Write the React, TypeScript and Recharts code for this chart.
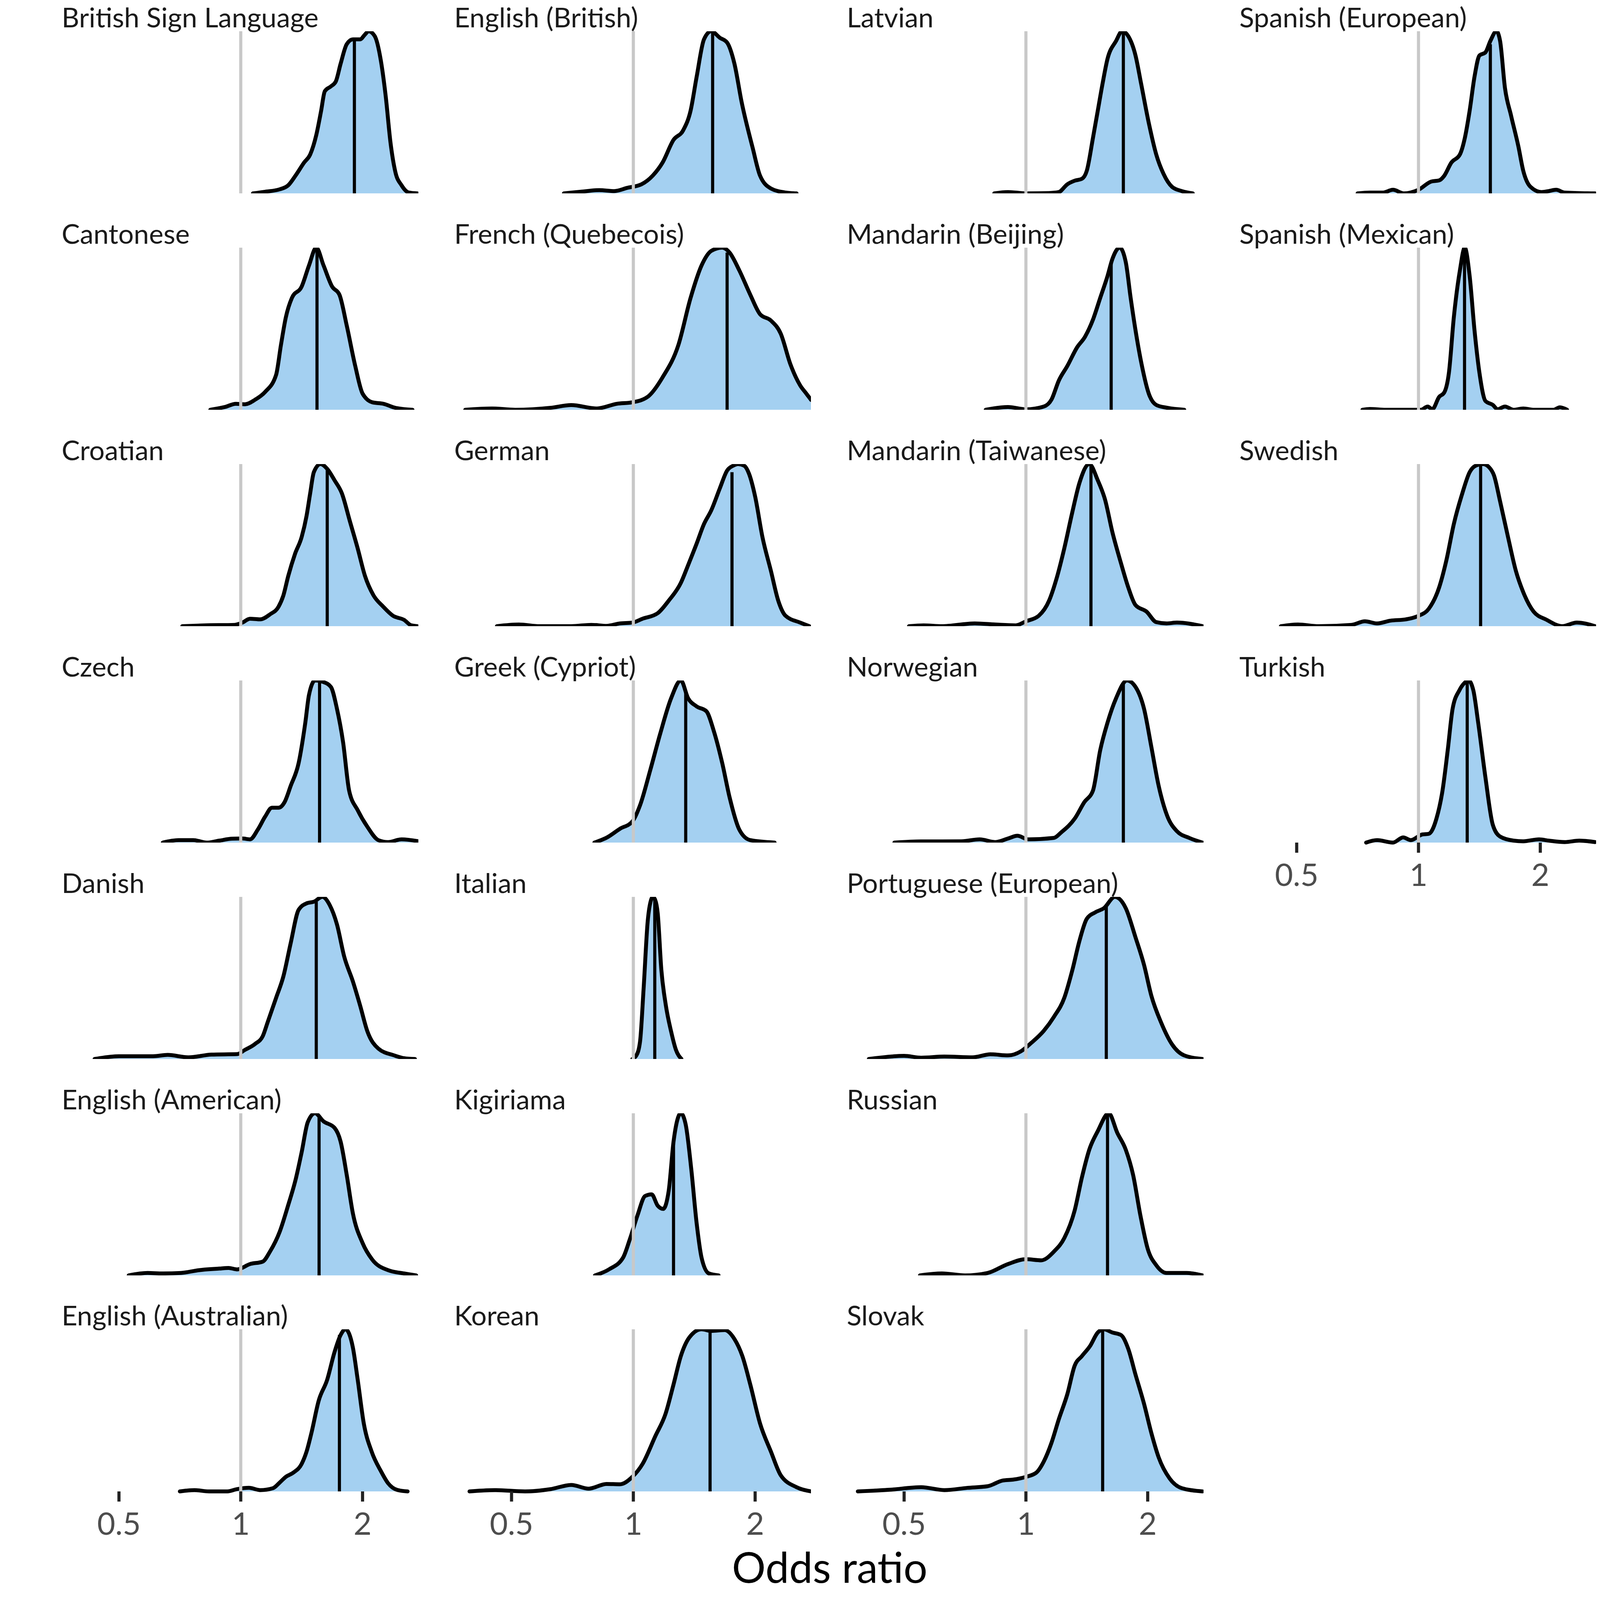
import React from "react";
import { ComposedChart, Area, XAxis, YAxis, ReferenceLine } from "recharts";

// ---- tick labels (odds ratio) and x positions in log2 units ----
const oddsTicks = [0.5, 1, 2];
const tickPositions = oddsTicks.map((v) => Math.log2(v));

// ---- panel order (facets, filled column by column) ----
const column0 = ["British Sign Language", "Cantonese", "Croatian", "Czech", "Danish", "English (American)", "English (Australian)"];
const column1 = ["English (British)", "French (Quebecois)", "German", "Greek (Cypriot)", "Italian", "Kigiriama", "Korean"];
const column2 = ["Latvian", "Mandarin (Beijing)", "Mandarin (Taiwanese)", "Norwegian", "Portuguese (European)", "Russian", "Slovak"];
const column3 = ["Spanish (European)", "Spanish (Mexican)", "Swedish", "Turkish"];

// ---- posterior densities: [log2 odds ratio, relative density] ----
const densBSL = [[0.10,0],[0.20,0.01],[0.32,0.025],[0.39,0.05],[0.45,0.11],[0.52,0.19],[0.57,0.24],[0.62,0.36],[0.66,0.51],[0.69,0.63],[0.74,0.66],[0.78,0.69],[0.82,0.80],[0.87,0.92],[0.92,0.95],[0.98,0.95],[1.02,0.98],[1.05,1.0],[1.10,0.97],[1.15,0.82],[1.19,0.60],[1.23,0.31],[1.27,0.13],[1.32,0.05],[1.38,0.005],[1.45,0]];
const densEnglishBritish = [[-0.57,0],[-0.43,0.01],[-0.28,0.02],[-0.155,0.014],[-0.05,0.034],[0.067,0.056],[0.16,0.11],[0.24,0.19],[0.33,0.33],[0.41,0.39],[0.47,0.51],[0.52,0.72],[0.58,0.95],[0.64,1.0],[0.71,0.96],[0.77,0.93],[0.83,0.80],[0.89,0.56],[0.98,0.28],[1.04,0.11],[1.13,0.03],[1.25,0.005],[1.34,0]];
const densCantonese = [[-0.25,0],[-0.13,0.017],[-0.04,0.037],[0.034,0.034],[0.12,0.063],[0.20,0.11],[0.29,0.215],[0.33,0.40],[0.37,0.57],[0.42,0.69],[0.50,0.76],[0.56,0.89],[0.62,1.0],[0.68,0.89],[0.75,0.76],[0.81,0.71],[0.87,0.52],[0.94,0.27],[1.0,0.10],[1.08,0.046],[1.17,0.037],[1.27,0.012],[1.41,0]];
const densFrench = [[-1.38,0],[-1.16,0.008],[-0.97,0],[-0.68,0.012],[-0.51,0.029],[-0.30,0.008],[-0.134,0.037],[-0.008,0.046],[0.118,0.08],[0.24,0.20],[0.37,0.40],[0.47,0.69],[0.56,0.89],[0.64,0.98],[0.73,1.0],[0.79,0.97],[0.87,0.86],[0.96,0.71],[1.04,0.59],[1.13,0.55],[1.21,0.47],[1.29,0.28],[1.37,0.15],[1.42,0.10],[1.46,0.06]];
const densLatvian = [[-0.26,0],[-0.147,0.008],[0,0],[0.19,0.002],[0.27,0.008],[0.34,0.056],[0.40,0.078],[0.46,0.09],[0.50,0.14],[0.55,0.34],[0.59,0.51],[0.63,0.68],[0.67,0.83],[0.74,0.94],[0.79,1.0],[0.84,0.97],[0.90,0.85],[0.945,0.68],[1.01,0.43],[1.07,0.24],[1.13,0.12],[1.20,0.04],[1.28,0.014],[1.37,0]];
const densSpanishEuropean = [[-0.50,0],[-0.40,0.005],[-0.29,0.005],[-0.21,0.022],[-0.12,0],[0,0.022],[0.105,0.073],[0.17,0.08],[0.21,0.107],[0.27,0.19],[0.34,0.24],[0.38,0.34],[0.42,0.51],[0.46,0.72],[0.50,0.85],[0.55,0.87],[0.59,0.94],[0.64,1.0],[0.67,0.94],[0.71,0.65],[0.76,0.48],[0.82,0.29],[0.86,0.14],[0.92,0.04],[1.01,0.008],[1.07,0.014],[1.13,0.022],[1.20,0.005],[1.45,0]];
const densMandarinBeijing = [[-0.33,0],[-0.147,0.017],[0,0.003],[0.147,0.02],[0.21,0.063],[0.27,0.18],[0.34,0.27],[0.42,0.385],[0.485,0.45],[0.55,0.555],[0.61,0.69],[0.67,0.825],[0.71,0.93],[0.77,1.0],[0.82,0.91],[0.86,0.69],[0.90,0.49],[0.95,0.28],[1.01,0.097],[1.07,0.03],[1.16,0.012],[1.30,0]];
const densSpanishMexican = [[-0.46,0],[-0.40,0.005],[-0.27,0],[0.02,0],[0.076,0.02],[0.113,0.003],[0.17,0.08],[0.21,0.105],[0.25,0.23],[0.29,0.57],[0.34,0.86],[0.38,1.0],[0.42,0.825],[0.46,0.49],[0.50,0.23],[0.55,0.054],[0.61,0.03],[0.65,0.003],[0.71,0.02],[0.78,0],[0.86,0.008],[0.95,0],[1.11,0],[1.16,0.015],[1.22,0]];
const densCroatian = [[-0.48,0],[-0.30,0.005],[-0.05,0.008],[0.013,0.022],[0.076,0.046],[0.16,0.042],[0.24,0.073],[0.31,0.12],[0.35,0.19],[0.39,0.31],[0.445,0.445],[0.50,0.55],[0.54,0.68],[0.57,0.82],[0.60,0.95],[0.655,1.0],[0.71,0.97],[0.77,0.90],[0.83,0.82],[0.895,0.65],[0.96,0.48],[1.02,0.31],[1.09,0.19],[1.17,0.12],[1.25,0.064],[1.34,0.039],[1.40,0.005],[1.45,0]];
const densGerman = [[-1.12,0],[-0.94,0.01],[-0.77,0],[-0.51,0],[-0.345,0.008],[-0.22,0.002],[-0.11,0.017],[-0.008,0.022],[0.076,0.046],[0.20,0.08],[0.29,0.157],[0.39,0.267],[0.45,0.377],[0.52,0.51],[0.58,0.63],[0.64,0.715],[0.71,0.85],[0.77,0.96],[0.82,0.99],[0.86,1.0],[0.91,0.99],[0.95,0.94],[1.0,0.80],[1.06,0.55],[1.13,0.34],[1.19,0.157],[1.25,0.064],[1.37,0.022],[1.445,0]];
const densCzech = [[-0.64,0],[-0.51,0.015],[-0.39,0.015],[-0.28,0],[-0.176,0.012],[-0.07,0.024],[0.013,0.025],[0.076,0.02],[0.14,0.08],[0.20,0.16],[0.256,0.215],[0.31,0.215],[0.36,0.25],[0.41,0.35],[0.475,0.49],[0.53,0.74],[0.56,0.91],[0.61,1.0],[0.68,0.99],[0.74,0.96],[0.79,0.825],[0.84,0.62],[0.89,0.32],[0.96,0.20],[1.04,0.097],[1.13,0.015],[1.21,0.003],[1.32,0.02],[1.46,0.008]];
const densGreek = [[-0.32,0],[-0.22,0.03],[-0.11,0.085],[-0.008,0.13],[0.055,0.23],[0.14,0.45],[0.22,0.67],[0.31,0.89],[0.39,1.0],[0.45,0.89],[0.52,0.84],[0.60,0.81],[0.66,0.69],[0.73,0.49],[0.79,0.28],[0.87,0.08],[0.96,0.015],[1.16,0]];
const densMandarinTaiwanese = [[-0.96,0],[-0.84,0.005],[-0.69,0],[-0.42,0.017],[-0.25,0.01],[-0.084,0.005],[0,0.03],[0.105,0.064],[0.19,0.157],[0.25,0.29],[0.315,0.48],[0.38,0.70],[0.44,0.885],[0.52,1.0],[0.59,0.90],[0.65,0.78],[0.71,0.58],[0.78,0.39],[0.84,0.24],[0.90,0.13],[0.99,0.09],[1.07,0.025],[1.155,0.017],[1.24,0.022],[1.45,0]];
const densSwedish = [[-1.13,0],[-0.99,0.01],[-0.82,0],[-0.55,0.008],[-0.44,0.03],[-0.34,0.017],[-0.23,0.034],[-0.105,0.042],[0,0.064],[0.084,0.107],[0.17,0.24],[0.23,0.41],[0.29,0.63],[0.36,0.82],[0.42,0.95],[0.47,0.99],[0.53,1.0],[0.58,0.98],[0.62,0.93],[0.67,0.77],[0.735,0.55],[0.80,0.34],[0.86,0.21],[0.945,0.09],[1.05,0.04],[1.18,0],[1.30,0.022],[1.45,0]];
const densNorwegian = [[-1.08,0],[-0.86,0.007],[-0.53,0.008],[-0.38,0.02],[-0.25,0.003],[-0.147,0.025],[-0.07,0.042],[0.02,0.02],[0.23,0.029],[0.29,0.063],[0.40,0.147],[0.48,0.25],[0.55,0.32],[0.61,0.57],[0.67,0.74],[0.74,0.89],[0.83,1.0],[0.90,0.96],[0.97,0.825],[1.03,0.59],[1.09,0.35],[1.16,0.165],[1.24,0.07],[1.34,0.029],[1.45,0]];
const densTurkish = [[-0.43,0],[-0.34,0.015],[-0.21,0],[-0.126,0.032],[-0.063,0.015],[0.03,0.05],[0.084,0.054],[0.147,0.147],[0.197,0.32],[0.24,0.57],[0.28,0.825],[0.336,0.94],[0.378,0.985],[0.41,1.0],[0.45,0.94],[0.49,0.74],[0.55,0.40],[0.61,0.11],[0.67,0.037],[0.78,0.012],[0.86,0.008],[0.99,0.02],[1.07,0.012],[1.20,0.003],[1.32,0.012],[1.45,0.003]];
const densDanish = [[-1.20,0],[-1.0,0.017],[-0.72,0.017],[-0.60,0.025],[-0.43,0.01],[-0.24,0.027],[-0.03,0.03],[0.034,0.056],[0.118,0.093],[0.18,0.14],[0.22,0.225],[0.29,0.377],[0.35,0.51],[0.41,0.715],[0.475,0.92],[0.54,0.96],[0.60,0.97],[0.67,1.0],[0.73,0.95],[0.79,0.83],[0.85,0.63],[0.92,0.48],[0.98,0.33],[1.04,0.17],[1.13,0.064],[1.26,0.022],[1.34,0.005],[1.43,0]];
const densItalian = [[-0.008,0],[0.025,0.022],[0.055,0.107],[0.084,0.43],[0.118,0.85],[0.145,0.98],[0.16,1.0],[0.18,0.98],[0.20,0.90],[0.23,0.55],[0.265,0.34],[0.31,0.17],[0.35,0.056],[0.395,0]];
const densEnglishAmerican = [[-0.92,0],[-0.765,0.015],[-0.64,0.012],[-0.49,0.015],[-0.345,0.032],[-0.176,0.042],[-0.10,0.046],[-0.03,0.037],[0.076,0.07],[0.18,0.085],[0.24,0.147],[0.32,0.27],[0.39,0.435],[0.45,0.59],[0.50,0.76],[0.55,0.945],[0.61,1.0],[0.68,0.95],[0.77,0.91],[0.82,0.825],[0.87,0.62],[0.92,0.385],[1.0,0.20],[1.08,0.097],[1.21,0.032],[1.34,0.012],[1.44,0]];
const densKigiriama = [[-0.315,0],[-0.20,0.037],[-0.084,0.11],[-0.03,0.22],[0.034,0.37],[0.097,0.49],[0.15,0.50],[0.20,0.43],[0.245,0.41],[0.29,0.52],[0.33,0.825],[0.39,1.0],[0.43,0.93],[0.475,0.66],[0.52,0.32],[0.56,0.11],[0.62,0.012],[0.70,0]];
const densPortuguese = [[-1.29,0],[-1.0,0.019],[-0.86,0.008],[-0.67,0.015],[-0.44,0.01],[-0.29,0.029],[-0.147,0.022],[-0.042,0.047],[0.042,0.098],[0.147,0.174],[0.23,0.26],[0.315,0.377],[0.38,0.545],[0.44,0.73],[0.50,0.865],[0.57,0.905],[0.64,0.93],[0.73,1.0],[0.82,0.93],[0.90,0.75],[0.97,0.58],[1.03,0.39],[1.11,0.225],[1.20,0.09],[1.30,0.022],[1.45,0]];
const densRussian = [[-0.87,0],[-0.69,0.012],[-0.50,0],[-0.315,0.015],[-0.147,0.07],[0,0.10],[0.126,0.093],[0.23,0.147],[0.315,0.23],[0.40,0.40],[0.46,0.605],[0.52,0.775],[0.59,0.89],[0.68,1.0],[0.75,0.88],[0.82,0.775],[0.88,0.62],[0.94,0.37],[1.0,0.164],[1.07,0.063],[1.155,0.015],[1.32,0.015],[1.45,0]];
const densEnglishAustralian = [[-0.50,0],[-0.38,0.008],[-0.26,0],[-0.11,0],[-0.03,0.014],[0.067,0.022],[0.16,0.008],[0.265,0.02],[0.32,0.055],[0.37,0.09],[0.43,0.115],[0.50,0.17],[0.54,0.245],[0.58,0.36],[0.64,0.56],[0.71,0.69],[0.77,0.86],[0.82,0.965],[0.86,1.0],[0.92,0.89],[0.96,0.69],[1.01,0.42],[1.075,0.245],[1.15,0.126],[1.21,0.05],[1.29,0.008],[1.37,0]];
const densKorean = [[-1.345,0],[-1.14,0.008],[-0.89,0],[-0.68,0.014],[-0.51,0.04],[-0.366,0.017],[-0.22,0.046],[-0.11,0.044],[-0.008,0.09],[0.076,0.17],[0.18,0.34],[0.265,0.48],[0.33,0.66],[0.39,0.835],[0.46,0.95],[0.56,1.0],[0.64,0.99],[0.75,0.995],[0.83,0.94],[0.895,0.835],[0.96,0.66],[1.04,0.42],[1.13,0.245],[1.21,0.10],[1.34,0.026],[1.46,0]];
const densSlovak = [[-1.38,0],[-1.12,0.01],[-0.86,0.026],[-0.67,0.008],[-0.48,0.022],[-0.315,0.032],[-0.19,0.067],[-0.105,0.073],[0,0.09],[0.084,0.115],[0.147,0.185],[0.21,0.30],[0.27,0.445],[0.34,0.60],[0.40,0.775],[0.46,0.835],[0.525,0.895],[0.59,0.98],[0.64,1.0],[0.71,0.98],[0.78,0.965],[0.84,0.88],[0.90,0.72],[0.97,0.54],[1.03,0.36],[1.09,0.21],[1.18,0.08],[1.28,0.02],[1.45,0]];

// ---- posterior medians: [log2 odds ratio, density at median] ----
const medianBSL = [0.933, 0.95];
const medianEnglishBritish = [0.651, 0.99];
const medianCantonese = [0.626, 0.99];
const medianFrench = [0.77, 0.97];
const medianLatvian = [0.80, 0.99];
const medianSpanishEuropean = [0.59, 0.92];
const medianMandarinBeijing = [0.70, 0.90];
const medianSpanishMexican = [0.378, 0.99];
const medianCroatian = [0.71, 0.97];
const medianGerman = [0.81, 0.95];
const medianCzech = [0.647, 0.99];
const medianGreek = [0.43, 0.93];
const medianMandarinTaiwanese = [0.534, 0.99];
const medianSwedish = [0.51, 0.99];
const medianNorwegian = [0.80, 0.98];
const medianTurkish = [0.40, 0.99];
const medianDanish = [0.62, 0.97];
const medianItalian = [0.176, 0.98];
const medianEnglishAmerican = [0.643, 0.98];
const medianKigiriama = [0.33, 0.82];
const medianPortuguese = [0.66, 0.94];
const medianRussian = [0.67, 0.99];
const medianEnglishAustralian = [0.81, 0.965];
const medianKorean = [0.63, 0.99];
const medianSlovak = [0.63, 0.99];

const densities: Record<string, number[][]> = {
  "British Sign Language": densBSL,
  "English (British)": densEnglishBritish,
  "Cantonese": densCantonese,
  "French (Quebecois)": densFrench,
  "Latvian": densLatvian,
  "Spanish (European)": densSpanishEuropean,
  "Mandarin (Beijing)": densMandarinBeijing,
  "Spanish (Mexican)": densSpanishMexican,
  "Croatian": densCroatian,
  "German": densGerman,
  "Czech": densCzech,
  "Greek (Cypriot)": densGreek,
  "Mandarin (Taiwanese)": densMandarinTaiwanese,
  "Swedish": densSwedish,
  "Norwegian": densNorwegian,
  "Turkish": densTurkish,
  "Danish": densDanish,
  "Italian": densItalian,
  "English (American)": densEnglishAmerican,
  "Kigiriama": densKigiriama,
  "Portuguese (European)": densPortuguese,
  "Russian": densRussian,
  "English (Australian)": densEnglishAustralian,
  "Korean": densKorean,
  "Slovak": densSlovak,
};

const medians: Record<string, number[]> = {
  "British Sign Language": medianBSL,
  "English (British)": medianEnglishBritish,
  "Cantonese": medianCantonese,
  "French (Quebecois)": medianFrench,
  "Latvian": medianLatvian,
  "Spanish (European)": medianSpanishEuropean,
  "Mandarin (Beijing)": medianMandarinBeijing,
  "Spanish (Mexican)": medianSpanishMexican,
  "Croatian": medianCroatian,
  "German": medianGerman,
  "Czech": medianCzech,
  "Greek (Cypriot)": medianGreek,
  "Mandarin (Taiwanese)": medianMandarinTaiwanese,
  "Swedish": medianSwedish,
  "Norwegian": medianNorwegian,
  "Turkish": medianTurkish,
  "Danish": medianDanish,
  "Italian": medianItalian,
  "English (American)": medianEnglishAmerican,
  "Kigiriama": medianKigiriama,
  "Portuguese (European)": medianPortuguese,
  "Russian": medianRussian,
  "English (Australian)": medianEnglishAustralian,
  "Korean": medianKorean,
  "Slovak": medianSlovak,
};

// ---- layout (pixels) ----
const FONT = "'Source Sans Pro', Lato, 'Noto Sans', sans-serif";
const X_DOMAIN: [number, number] = [-1.47, 1.46];
const UNIT = 311.8;
const PLOT_W = (X_DOMAIN[1] - X_DOMAIN[0]) * UNIT;
const ONE_X0 = 616;
const PLOT_LEFT0 = ONE_X0 + X_DOMAIN[0] * UNIT;
const COL_STEP = 1005;
const PLOT_TOP0 = 80;
const ROW_STEP = 553.9;
const PLOT_H = 415;
const AXIS_H = 150;
const LABEL_Y0 = 70;

const fmtTick = (v: number) => {
  const i = tickPositions.findIndex((t) => Math.abs(t - v) < 1e-6);
  return i >= 0 ? String(oddsTicks[i]) : "";
};

function Panel({ name, col, row, showAxis }: { name: string; col: number; row: number; showAxis: boolean }) {
  const data = densities[name].map(([x, d]) => ({ x, d }));
  const [m, mh] = medians[name];
  return (
    <div style={{ position: "absolute", left: PLOT_LEFT0 + col * COL_STEP, top: PLOT_TOP0 + row * ROW_STEP }}>
      <ComposedChart
        width={PLOT_W}
        height={PLOT_H + (showAxis ? AXIS_H : 0)}
        data={data}
        margin={{ top: 0, right: 0, bottom: 0, left: 0 }}
      >
        <XAxis
          type="number"
          dataKey="x"
          domain={X_DOMAIN}
          ticks={tickPositions}
          tickFormatter={fmtTick}
          hide={!showAxis}
          height={AXIS_H}
          axisLine={false}
          tickLine={{ stroke: "#222222", strokeWidth: 8 }}
          tickSize={26}
          tickMargin={28}
          tick={{ fill: "#4D4D4D", fontSize: 80, fontFamily: FONT }}
          interval={0}
        />
        <YAxis type="number" domain={[0, 1]} hide />
        <ReferenceLine x={0} stroke="#C8C8C8" strokeWidth={8} />
        <Area
          type="monotone"
          dataKey="d"
          fill="#5AAAE6"
          fillOpacity={0.55}
          stroke="#000000"
          strokeWidth={10}
          strokeLinecap="round"
          strokeLinejoin="round"
          isAnimationActive={false}
          dot={false}
          activeDot={false}
        />
        <ReferenceLine
          segment={[
            { x: m, y: 0 },
            { x: m, y: mh },
          ]}
          stroke="#000000"
          strokeWidth={8}
        />
      </ComposedChart>
    </div>
  );
}

const columns = [column0, column1, column2, column3];

export default function App() {
  const panels: React.ReactNode[] = [];
  const labels: React.ReactNode[] = [];
  columns.forEach((names, col) => {
    names.forEach((name, row) => {
      panels.push(
        <Panel key={name} name={name} col={col} row={row} showAxis={row === names.length - 1} />
      );
      labels.push(
        <text
          key={"l" + name}
          x={PLOT_LEFT0 + col * COL_STEP}
          y={LABEL_Y0 + row * ROW_STEP}
          fontSize={70}
          fill="#1A1A1A"
          fontFamily={FONT}
        >
          {name}
        </text>
      );
    });
  });
  return (
    <div style={{ position: "absolute", left: 0, top: 0, width: 4200, height: 4200, background: "#ffffff" }}>
      {panels}
      <svg width={4200} height={4200} style={{ position: "absolute", left: 0, top: 0, pointerEvents: "none" }}>
        {labels}
        <text x={2124} y={4052} fontSize={108} fill="#000000" textAnchor="middle" fontFamily={FONT}>
          Odds ratio
        </text>
      </svg>
    </div>
  );
}
